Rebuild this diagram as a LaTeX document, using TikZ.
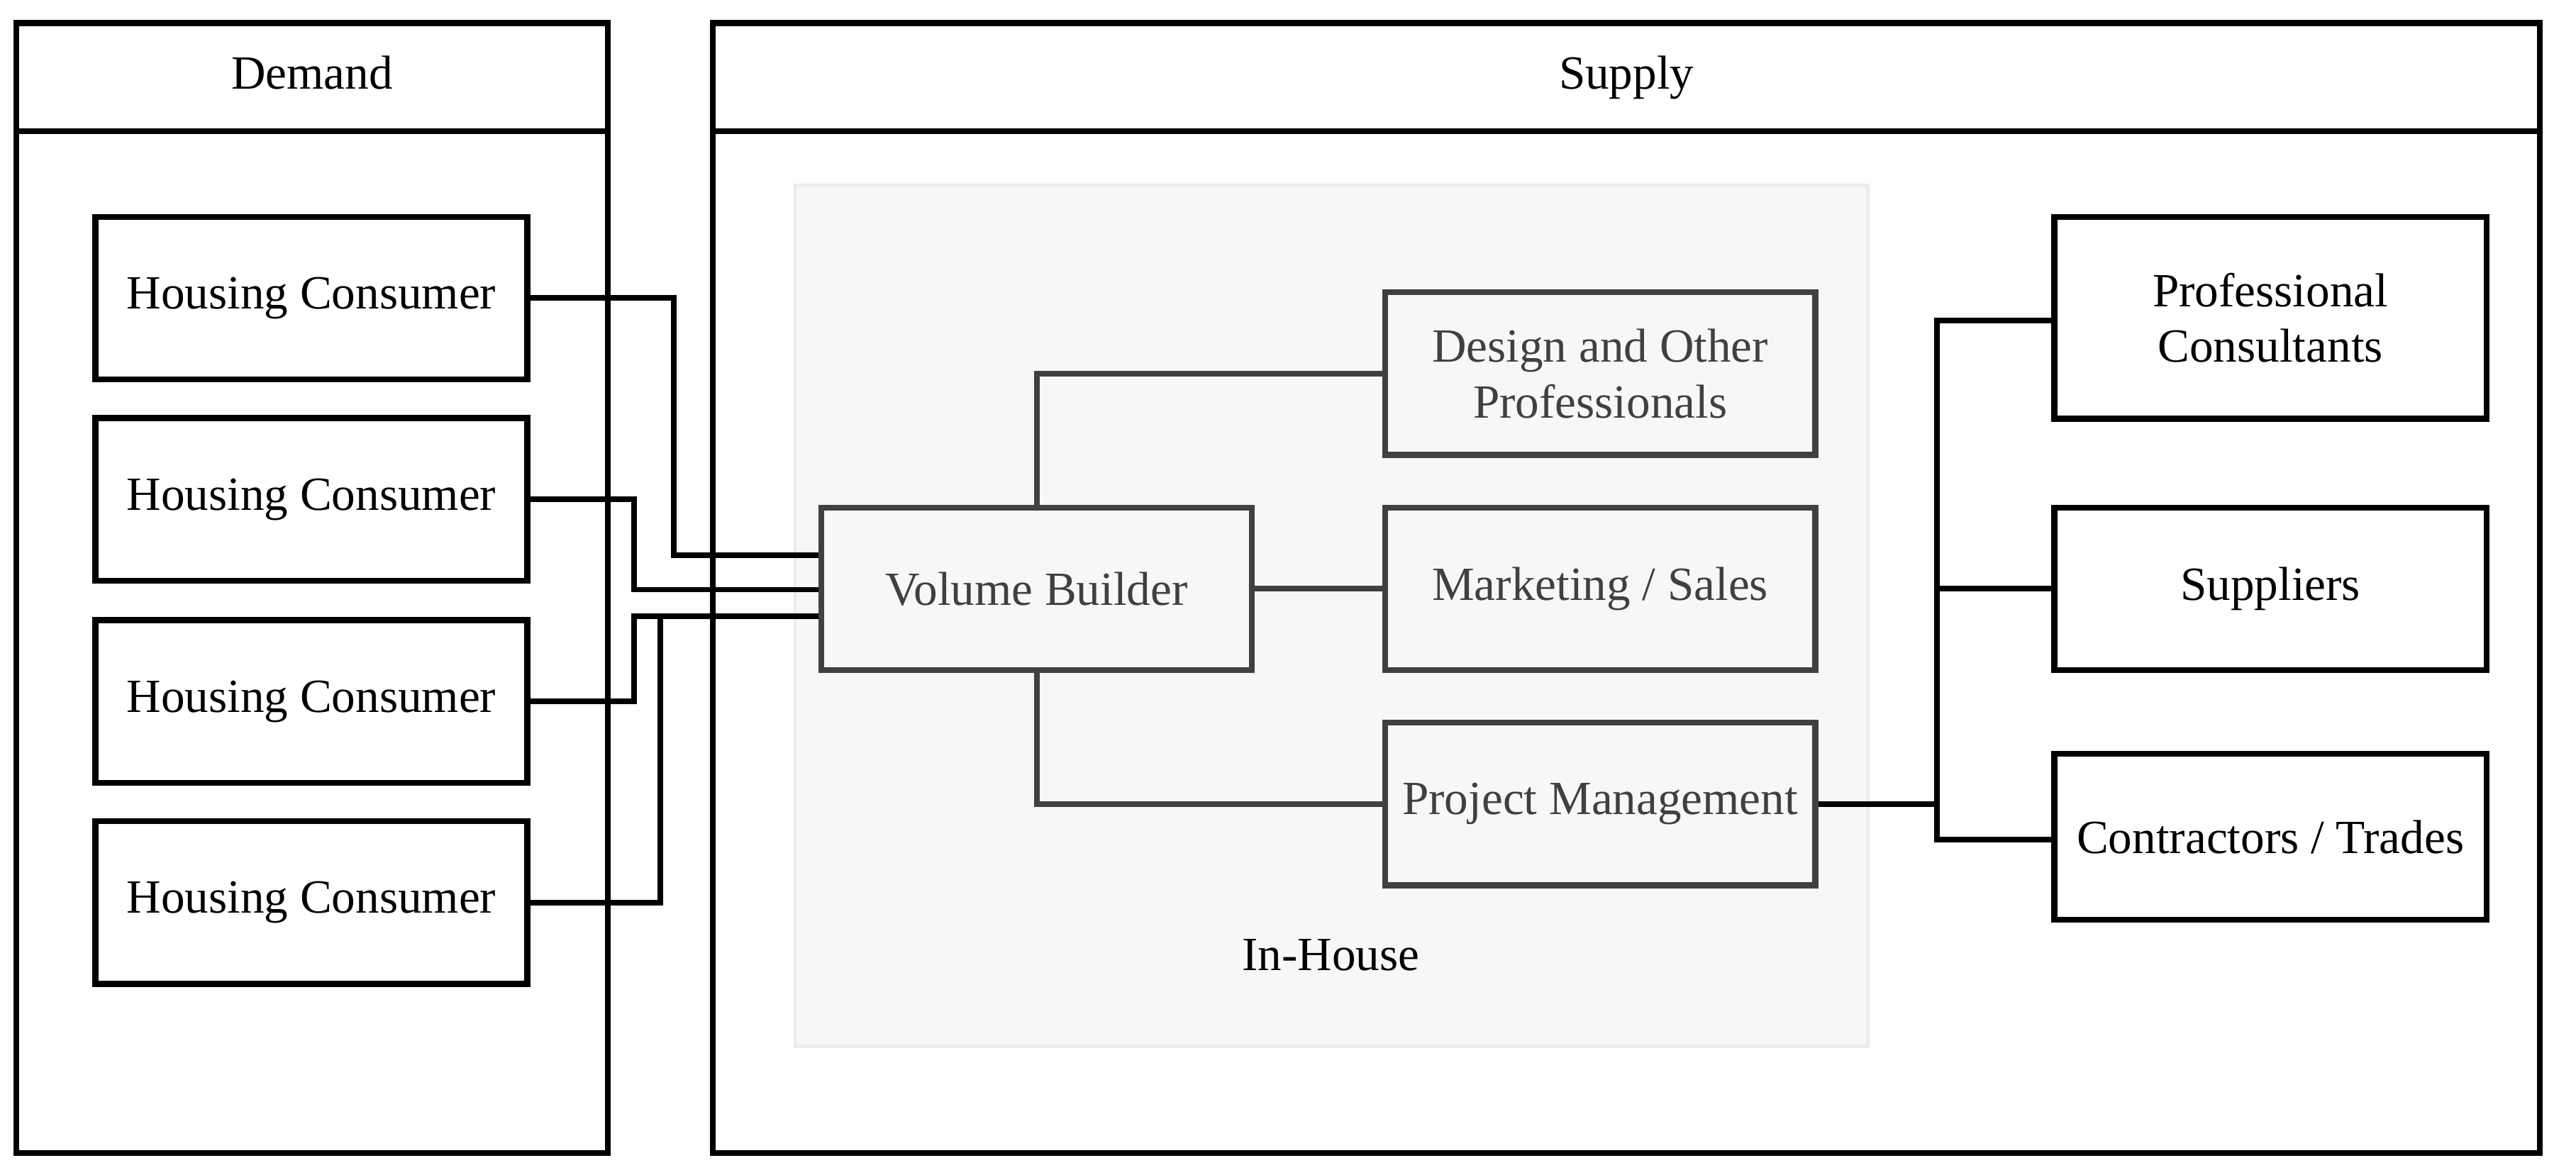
\documentclass[tikz,border=0pt]{standalone}
\usepackage{fontspec}
\setmainfont{Liberation Serif}
\begin{document}
\begin{tikzpicture}[x=0.5pt,y=-0.5pt,
  frame/.style={draw=black,line width=1.8pt},
  outbox/.style={draw=black,line width=1.8pt,minimum width=131.5pt,minimum height=49.5pt,align=center,font=\fontsize{14.5}{17}\selectfont},
  inbox/.style={draw=black!75,line width=1.8pt,text=black!75,minimum width=131pt,minimum height=49.5pt,align=center,font=\fontsize{14.5}{17}\selectfont},
  blk/.style={draw=black,line width=1.7pt},
  gry/.style={draw=black!75,line width=1.7pt},
  lbl/.style={font=\fontsize{14.5}{17}\selectfont}]
\useasboundingbox (0,0) rectangle (1568,715);
\fill[white] (0,0) rectangle (1568,715);
% frames
\draw[frame] (10,14) rectangle (370,702);
\draw[frame] (10,80) -- (370,80);
\node[lbl,anchor=base] (dem) at (190,54) {Demand};
\draw[frame] (434,14) rectangle (1546,702);
\draw[frame] (434,80) -- (1546,80);
\node[lbl,anchor=base] (sup) at (990,54) {Supply};
\draw[fill=black!3,draw=black!8,line width=1pt] (484,113) rectangle (1137,637);
\node[lbl,anchor=base] (inh) at (810,591) {In-House};
% demand nodes
\node[outbox] (h1) at (189.5,181.5) {Housing Consumer};
\node[outbox] (h2) at (189.5,304) {Housing Consumer};
\node[outbox] (h3) at (189.5,427) {Housing Consumer};
\node[outbox] (h4) at (189.5,549.5) {Housing Consumer};
% in-house
\node[inbox] (vb) at (631,358.5) {Volume Builder};
\node[inbox] (des) at (974,227.5) {Design and Other\\Professionals};
\node[inbox] (mar) at (974,358.5) {Marketing / Sales};
\node[inbox] (pm) at (974,489.5) {Project Management};
% external
\node[outbox,minimum height=61.5pt] (pc) at (1382,193.5) {Professional\\Consultants};
\node[outbox] (sp) at (1382,358.5) {Suppliers};
\node[outbox,minimum height=50.5pt] (ct) at (1382,509.5) {Contractors / Trades};
% connectors demand
\draw[blk] (h1.east) -| (410,338) -- (vb.west |- 0,338);
\draw[blk] (h2.east) -| (386,359) -- (vb.west |- 0,359);
\draw[blk] (h3.east) -| (386,375) -- (vb.west |- 0,375);
\draw[blk] (h4.east) -| (402,375);
% in-house connectors
\draw[gry] (vb.north) |- (des.west);
\draw[gry] (vb.east) -- (mar.west);
\draw[gry] (vb.south) |- (pm.west);
% external
\coordinate (tr) at (1179,489.5);
\draw[blk] (pm.east) -- (tr);
\draw[blk] (pc.west |- 0,195) -| (1179,511) -- (ct.west |- 0,511);
\draw[blk] (1179,358.5) -- (sp.west);
\end{tikzpicture}
\end{document}
